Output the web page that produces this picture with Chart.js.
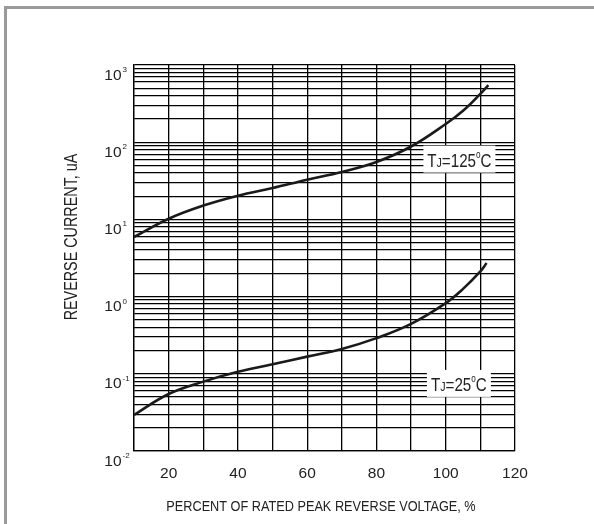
<!DOCTYPE html>
<html>
<head>
<meta charset="utf-8">
<script src="https://cdn.jsdelivr.net/npm/chart.js@4/dist/chart.umd.min.js"></script>
<style>
  html, body { margin: 0; padding: 0; background: #fff; }
  #wrap { position: relative; width: 594px; height: 524px; overflow: hidden; }
  #frame { position: absolute; left: 4px; top: 6px; width: 600px; height: 530px;
           border-top: 3px solid #9a9a9a; border-left: 3px solid #9a9a9a; }
  #chart { position: absolute; left: 0; top: 0; }
</style>
</head>
<body>
<div id="wrap">
  <div id="frame"></div>
  <canvas id="chart" width="594" height="524"></canvas>
</div>
<script>
// Data
const voltagePct = [10, 20, 30, 40, 50, 60, 70, 80, 90, 100, 105, 110, 112.3];
const current125 = [5.9, 10.2, 15.1, 20.3, 25.5, 32.7, 41.2, 55.5, 88, 172, 255, 423, 550];
const voltagePct25 = [10, 20, 30, 40, 50, 60, 70, 80, 90, 100, 105, 110, 111.8];
const current25 = [0.0293, 0.0548, 0.0792, 0.106, 0.133, 0.167, 0.21, 0.29, 0.444, 0.824, 1.26, 2.12, 2.72];
const xTickLabels = [20, 40, 60, 80, 100, 120];
const yTickExps = [-2, -1, 0, 1, 2, 3];
const xTitle = "PERCENT OF RATED PEAK REVERSE VOLTAGE, %";
const yTitle = "REVERSE CURRENT, uA";

const SANS = "'Liberation Sans', Arial, sans-serif";
const SQUEEZE = 0.82; // the reference uses a condensed face

// curve labels: T, subscript J, value, degree sign, C
const curveLabels = [
    { x: 103.95, y: 60.4, value: "=125", w: 72 },
    { x: 103.8, y: 0.0751, value: "=25", w: 64 },
];

// grid at 1..9 x 10^n on the log axis
function logGridTicks(scale) {
    const ticks = [];
    for (let e = yTickExps[0]; e < yTickExps[yTickExps.length - 1]; e++) {
        for (let m = 1; m <= 9; m++) ticks.push({ value: m * Math.pow(10, e) });
    }
    ticks.push({ value: Math.pow(10, yTickExps[yTickExps.length - 1]) });
    scale.ticks = ticks;
}

// draw text squeezed horizontally, x is the left edge
function narrowText(ctx, text, x, y, size) {
    ctx.save();
    ctx.font = size + "px " + SANS;
    ctx.translate(x, y);
    ctx.scale(SQUEEZE, 1);
    ctx.fillText(text, 0, 0);
    ctx.restore();
}
function narrowWidth(ctx, text, size) {
    ctx.font = size + "px " + SANS;
    return ctx.measureText(text).width * SQUEEZE;
}

const extrasPlugin = {
    id: "extras",
    afterDraw(chart) {
        const ctx = chart.ctx;
        const xs = chart.scales.x;
        const ys = chart.scales.y;
        ctx.save();
        ctx.fillStyle = "#222";
        ctx.textBaseline = "alphabetic";

        // y tick labels 10^n
        yTickExps.forEach(function (e) {
            const py = ys.getPixelForValue(Math.pow(10, e));
            const base = py + 14.5;
            ctx.font = "15.5px " + SANS;
            ctx.textAlign = "right";
            ctx.fillText("10", 121.5, base);
            ctx.font = "8px " + SANS;
            ctx.textAlign = "left";
            ctx.fillText(String(e), 122.5, base - 7.5);
        });
        ctx.textAlign = "left";

        // x title
        const xw = narrowWidth(ctx, xTitle, 15.5);
        narrowText(ctx, xTitle, 321 - xw / 2, 511, 15.5);

        // y title
        ctx.save();
        ctx.translate(77, 237);
        ctx.rotate(-Math.PI / 2);
        const yw = narrowWidth(ctx, yTitle, 17.5);
        narrowText(ctx, yTitle, -yw / 2, 0, 17.5);
        ctx.restore();

        // curve labels
        curveLabels.forEach(function (lb) {
            const cx = xs.getPixelForValue(lb.x);
            const cy = ys.getPixelForValue(lb.y);
            ctx.fillStyle = "#fff";
            ctx.fillRect(cx - lb.w / 2, cy - 13.5, lb.w, 27);
            const parts = [
                { t: "T", s: 18.5, dy: 0 },
                { t: "J", s: 13, dy: 0 },
                { t: lb.value, s: 18.5, dy: 0 },
                { t: "o", s: 10, dy: -8.5 },
                { t: "C", s: 18.5, dy: 0 },
            ];
            let total = 0;
            parts.forEach(function (p) { p.w = narrowWidth(ctx, p.t, p.s); total += p.w; });
            let px = cx - total / 2;
            ctx.fillStyle = "#222";
            parts.forEach(function (p) {
                narrowText(ctx, p.t, px, cy + 7.5 + p.dy, p.s);
                px += p.w;
            });
        });
        ctx.restore();
    }
};

const config = {
    type: "line",
    data: {
        datasets: [
            {
                label: "TJ=125°C",
                data: voltagePct.map((v, i) => ({ x: v, y: current125[i] })),
                borderColor: "#1a1a1a",
                borderWidth: 2.6,
                pointRadius: 0,
                tension: 0.4,
                fill: false,
            },
            {
                label: "TJ=25°C",
                data: voltagePct25.map((v, i) => ({ x: v, y: current25[i] })),
                borderColor: "#1a1a1a",
                borderWidth: 2.6,
                pointRadius: 0,
                tension: 0.4,
                fill: false,
            },
        ],
    },
    options: {
        responsive: false,
        animation: false,
        devicePixelRatio: 1,
        layout: { padding: { left: 0, top: 65, right: 79, bottom: 0 } },
        plugins: { legend: { display: false }, tooltip: { enabled: false } },
        scales: {
            x: {
                type: "linear",
                min: 10,
                max: 120,
                afterFit(scale) { scale.height = 73; },
                ticks: {
                    stepSize: 10,
                    autoSkip: false,
                    maxRotation: 0,
                    padding: 13,
                    color: "#222",
                    font: { family: SANS, size: 15.5 },
                    callback: (v) => (xTickLabels.includes(v) ? String(v) : ""),
                },
                grid: { color: "#000", lineWidth: 1.3, drawTicks: false },
                border: { color: "#000", width: 1.3 },
            },
            y: {
                type: "logarithmic",
                min: 0.01,
                max: 1000,
                afterFit(scale) { scale.width = 134; },
                afterBuildTicks: logGridTicks,
                ticks: { display: false, autoSkip: false },
                grid: { color: "#000", lineWidth: 1.3, drawTicks: false },
                border: { color: "#000", width: 1.3 },
            },
        },
    },
    plugins: [extrasPlugin],
};

new Chart(document.getElementById("chart").getContext("2d"), config);
</script>
</body>
</html>
